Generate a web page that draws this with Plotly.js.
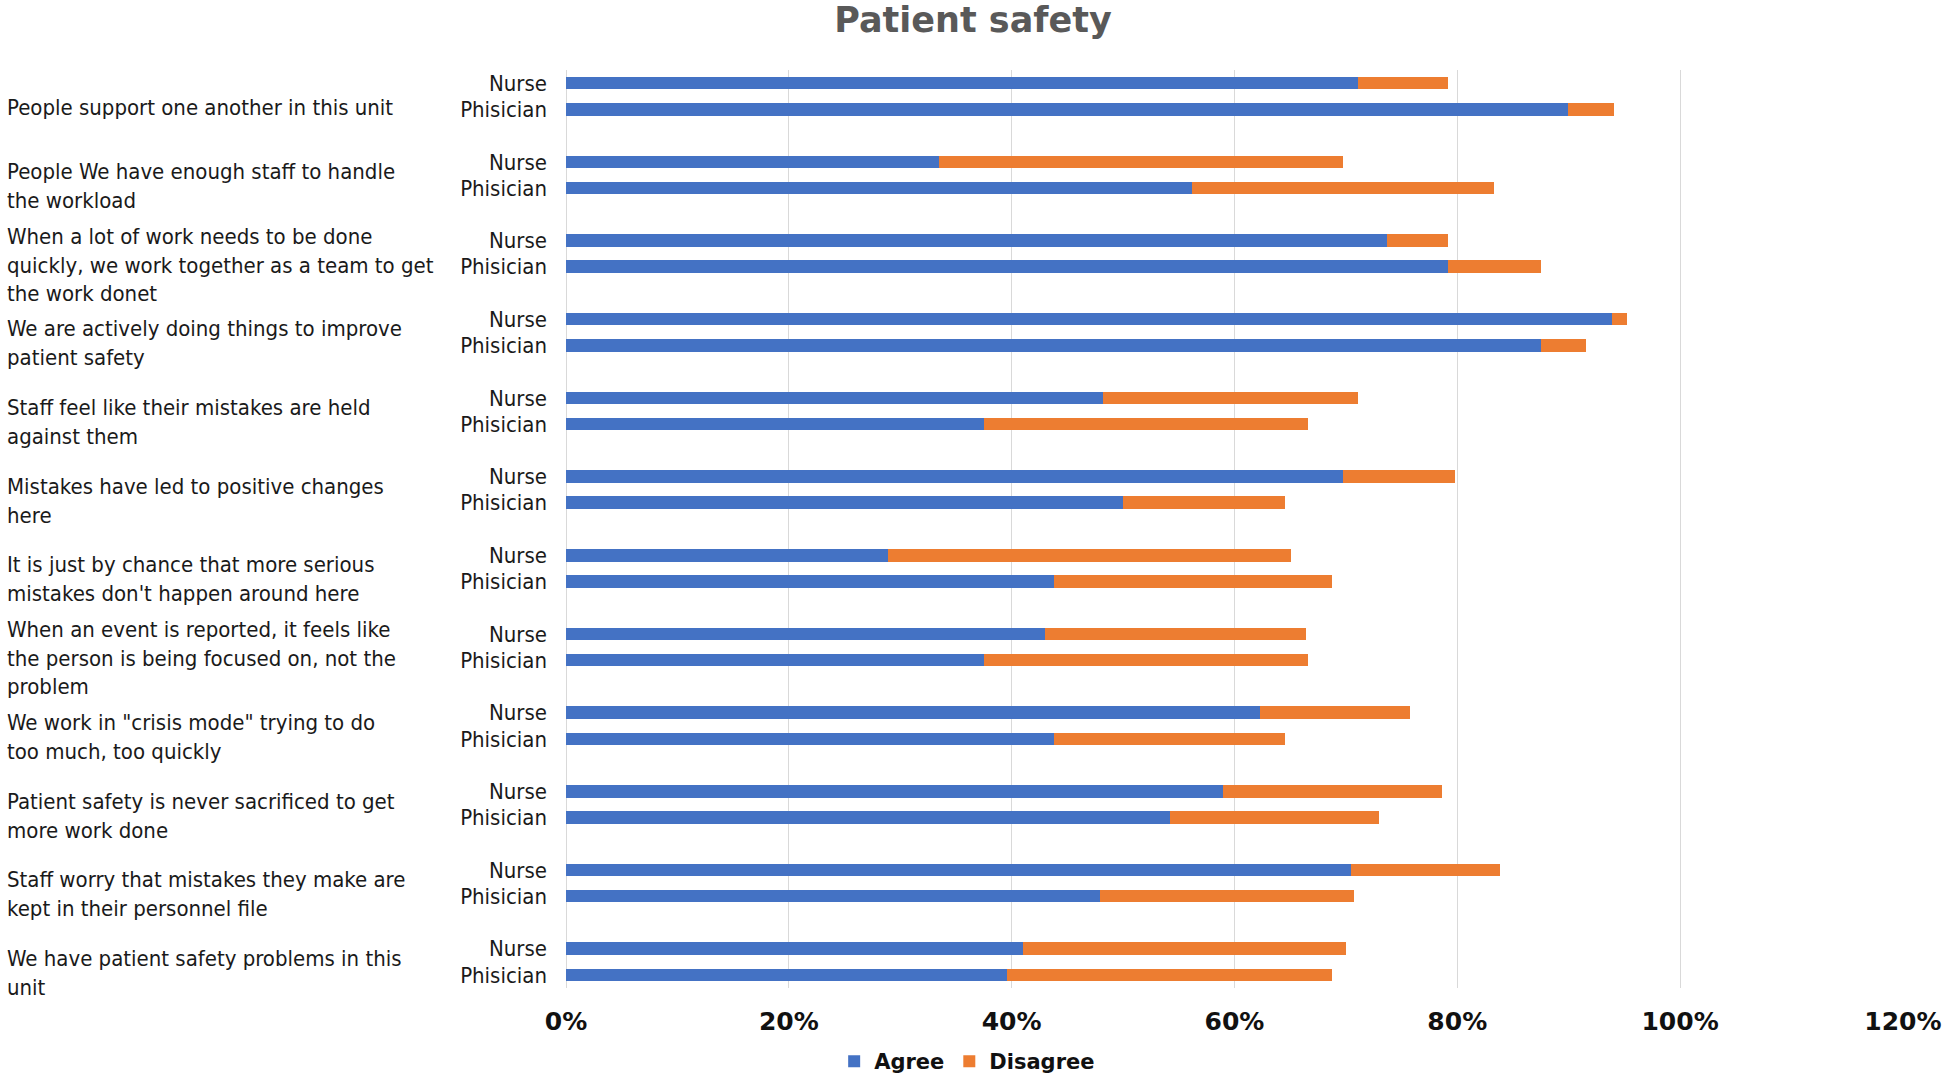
<!DOCTYPE html>
<html>
<head>
<meta charset="utf-8">
<script src="https://cdn.plot.ly/plotly-3.0.1.min.js"></script>
<style>
  html, body { margin: 0; padding: 0; background: #fff; }
  #chart { width: 1946px; height: 1081px; }
</style>
</head>
<body>
<div id="chart"></div>
<script>
// survey statements, top to bottom
const statements = [
  'People support one another in this unit',
  'People We have enough staff to handle<br>the workload',
  'When a lot of work needs to be done<br>quickly, we work together as a team to get<br>the work donet',
  'We are actively doing things to improve<br>patient safety',
  'Staff feel like their mistakes are held<br>against them',
  'Mistakes have led to positive changes<br>here',
  'It is just by chance that more serious<br>mistakes don\'t happen around here',
  'When an event is reported, it feels like<br>the person is being focused on, not the<br>problem',
  'We work in "crisis mode" trying to do<br>too much, too quickly',
  'Patient safety is never sacrificed to get<br>more work done',
  'Staff worry that mistakes they make are<br>kept in their personnel file',
  'We have patient safety problems in this<br>unit'
];
const roles = ['Nurse', 'Phisician'];

// shares (fractions of respondents)
const nurseAgree       = [0.711, 0.335, 0.737, 0.939, 0.482, 0.697, 0.289, 0.430, 0.623, 0.590, 0.705, 0.410];
const nurseDisagree    = [0.081, 0.362, 0.055, 0.013, 0.229, 0.101, 0.362, 0.234, 0.135, 0.196, 0.133, 0.290];
const physicianAgree   = [0.899, 0.562, 0.792, 0.875, 0.375, 0.500, 0.438, 0.375, 0.438, 0.542, 0.479, 0.396];
const physicianDisagree = [0.042, 0.271, 0.083, 0.041, 0.291, 0.145, 0.250, 0.291, 0.207, 0.188, 0.228, 0.292];

const xTicks = [0, 0.2, 0.4, 0.6, 0.8, 1.0, 1.2];

const BLUE = '#4472C4';
const ORANGE = '#ED7D31';
const TEXT_FONT = 'DejaVu Sans Condensed, DejaVu Sans, sans-serif';
const BOLD_FONT = 'DejaVu Sans, sans-serif';

// one category per bar, plus an empty slot between statements (like the excel blank rows)
const barCats = [];
const allCats = [];
const agreeX = [];
const disagreeX = [];
statements.forEach((s, i) => {
  barCats.push(i + '|' + roles[0], i + '|' + roles[1]);
  allCats.push(i + '|' + roles[0], i + '|' + roles[1]);
  if (i < statements.length - 1) allCats.push(i + '|gap');
  agreeX.push(nurseAgree[i], physicianAgree[i]);
  disagreeX.push(nurseDisagree[i], physicianDisagree[i]);
});
const barText = barCats.map((c) => c.split('|')[1]);

const traces = [
  {
    type: 'bar',
    orientation: 'h',
    name: 'Agree',
    y: barCats,
    x: agreeX,
    marker: { color: BLUE, line: { width: 0 } },
    hovertemplate: '%{x:.1%}<extra>Agree</extra>'
  },
  {
    type: 'bar',
    orientation: 'h',
    name: 'Disagree',
    y: barCats,
    x: disagreeX,
    marker: { color: ORANGE, line: { width: 0 } },
    hovertemplate: '%{x:.1%}<extra>Disagree</extra>'
  }
];

const annotations = statements.map((s, i) => ({
  text: s,
  xref: 'paper',
  x: 0,
  xanchor: 'left',
  xshift: -561,
  yref: 'y',
  y: i + '|' + roles[1],
  yanchor: 'middle',
  yshift: 2,
  align: 'left',
  showarrow: false,
  font: { family: TEXT_FONT, size: 22, color: '#1a1a1a' }
}));

const layout = {
  width: 1946,
  height: 1081,
  paper_bgcolor: '#fff',
  plot_bgcolor: '#fff',
  margin: { l: 566, r: 43, t: 70, b: 93 },
  barmode: 'stack',
  bargap: 0.52,
  showlegend: true,
  title: {
    text: '<b>Patient safety</b>',
    font: { family: BOLD_FONT, size: 35, color: '#595959' },
    x: 0.5,
    xanchor: 'center',
    y: 0.982,
    yanchor: 'middle'
  },
  xaxis: {
    range: [0, 1.2001],
    tickvals: xTicks,
    tickformat: '.0%',
    showgrid: true,
    gridcolor: '#D9D9D9',
    gridwidth: 1,
    zeroline: true,
    zerolinecolor: '#D9D9D9',
    zerolinewidth: 1,
    showline: false,
    ticks: '',
    ticklabelstandoff: 16,
    tickfont: { family: BOLD_FONT, size: 25, color: '#111', weight: 'bold' }
  },
  yaxis: {
    type: 'category',
    categoryorder: 'array',
    categoryarray: allCats,
    range: [allCats.length - 0.5, -0.5],
    tickvals: barCats,
    ticktext: barText,
    showgrid: false,
    zeroline: false,
    showline: false,
    ticks: '',
    ticklabelstandoff: 18,
    tickfont: { family: TEXT_FONT, size: 22, color: '#1a1a1a' }
  },
  legend: {
    orientation: 'h',
    xref: 'container',
    yref: 'container',
    x: 0.497,
    xanchor: 'center',
    y: 0.018,
    yanchor: 'middle',
    traceorder: 'normal',
    itemwidth: 30,
    font: { family: BOLD_FONT, size: 21, color: '#111', weight: 'bold' }
  },
  annotations: annotations
};

Plotly.newPlot('chart', traces, layout, { displayModeBar: false, staticPlot: true });
</script>
</body>
</html>
